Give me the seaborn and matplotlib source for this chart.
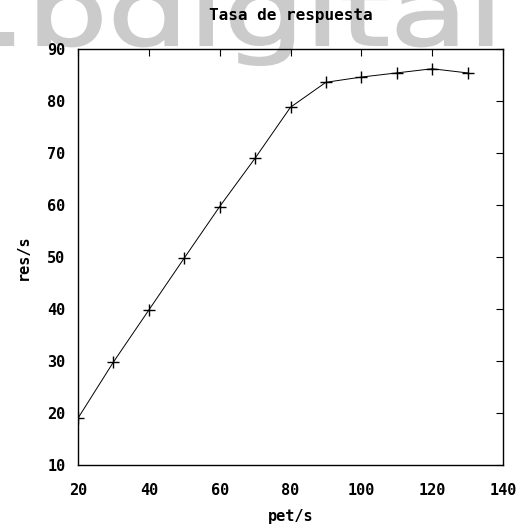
import matplotlib
matplotlib.use("Agg")
import matplotlib.pyplot as plt
import seaborn as sns
import pandas as pd
from matplotlib.textpath import TextPath
from matplotlib.patches import PathPatch
from matplotlib.font_manager import FontProperties
from matplotlib.transforms import Affine2D, IdentityTransform

pet = [20, 30, 40, 50, 60, 70, 80, 90, 100, 110, 120, 130]
res = [19.0, 29.8, 39.8, 49.8, 59.7, 69.0, 78.8, 83.6, 84.6, 85.4, 86.2, 85.4]
xticks = [20, 40, 60, 80, 100, 120, 140]
yticks = [10, 20, 30, 40, 50, 60, 70, 80, 90]

sns.set_style("white")
plt.rcParams['font.family'] = ['DejaVu Sans Mono', 'DejaVu Sans']
plt.rcParams['text.color'] = 'black'
plt.rcParams['axes.labelcolor'] = 'black'
plt.rcParams['xtick.color'] = 'black'
plt.rcParams['ytick.color'] = 'black'

df = pd.DataFrame({"pet/s": pet, "res/s": res})

W, H = 532, 525
fig = plt.figure(figsize=(W / 100, H / 100), dpi=100)

# watermark (stretched text path, in pixel coordinates)
tp = TextPath((0, 0), ".bdigital", size=1, prop=FontProperties(family="DejaVu Sans"))
ext = tp.get_extents()
gdesc = -ext.y0  # descender depth in em units
sx = 505 / ext.x1
sy = 20 / gdesc
tr = Affine2D().translate(-ext.x0, 0).scale(sx, sy).translate(0, H - 45)
wm = PathPatch(tr.transform_path(tp), facecolor="#cbcbcb", edgecolor="#cbcbcb",
               linewidth=1.5, transform=IdentityTransform(), zorder=-1)
fig.patches.append(wm)

ax = fig.add_axes([78 / W, 1 - 465 / H, (503 - 78) / W, (465 - 49) / H])
ax.patch.set_alpha(0)
sns.lineplot(data=df, x="pet/s", y="res/s", ax=ax, color="black", linewidth=0.7,
             marker="+", markersize=9, markeredgewidth=1.0, markeredgecolor="black")

ax.set_xlim(20, 140)
ax.set_ylim(10, 90)
ax.set_xticks(xticks)
ax.set_yticks(yticks)
ax.tick_params(axis="both", direction="in", length=5, width=0.8, top=True, right=True,
               labelsize=11, colors="black")
ax.tick_params(axis="x", pad=13)
ax.tick_params(axis="y", pad=9)
for lab in ax.get_xticklabels() + ax.get_yticklabels():
    lab.set_fontweight("bold")
for s in ax.spines.values():
    s.set_linewidth(1.0)
    s.set_color("black")
ax.set_xlabel("pet/s", fontsize=11, fontweight="bold", labelpad=8, color="black")
ax.set_ylabel("res/s", fontsize=11, fontweight="bold", labelpad=12, color="black")
ax.set_title("Tasa de respuesta", fontsize=11.5, fontweight="bold", pad=21, color="black")

fig.savefig("out.png", dpi=100)
